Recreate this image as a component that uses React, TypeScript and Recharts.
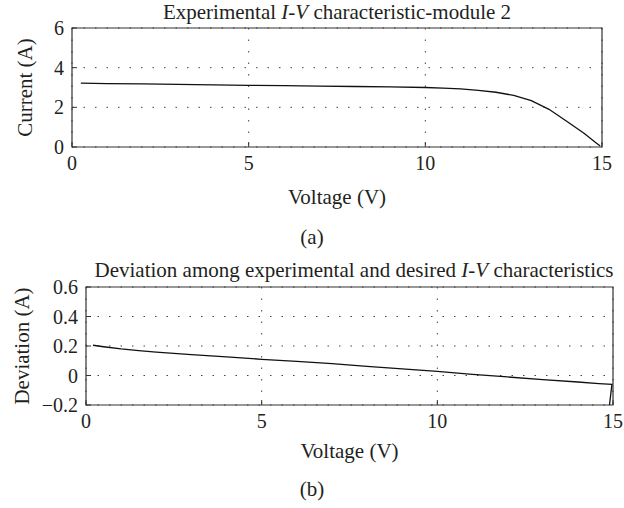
import { LineChart, Line, XAxis, YAxis, CartesianGrid, ReferenceArea, Label } from 'recharts';

// (a) experimental I-V curve
const ivVoltage = [0.25, 1, 2, 3, 4, 5, 6, 7, 8, 9, 10, 10.5, 11, 11.5, 12, 12.5, 13, 13.5, 14, 14.5, 14.8, 14.95];
const ivCurrent = [3.22, 3.2, 3.18, 3.16, 3.13, 3.11, 3.09, 3.07, 3.05, 3.03, 3.0, 2.97, 2.93, 2.86, 2.76, 2.6, 2.34, 1.9, 1.3, 0.68, 0.25, 0.05];

// (b) deviation
const devVoltage = [0.2, 0.5, 1, 1.5, 2, 3, 4, 5, 6, 7, 8, 9, 10, 11, 12, 13, 14, 14.6, 14.97, 14.9];
const devValue = [0.205, 0.195, 0.18, 0.168, 0.158, 0.142, 0.126, 0.11, 0.096, 0.08, 0.062, 0.045, 0.028, 0.008, -0.01, -0.028, -0.044, -0.055, -0.06, -0.2];

const xTicks = [0, 5, 10, 15];
const ivTicks = [0, 2, 4, 6];
const devTicks = [-0.2, 0, 0.2, 0.4, 0.6];

const ivData = ivVoltage.map((v, i) => ({ v, y: ivCurrent[i] }));
const devData = devVoltage.map((v, i) => ({ v, y: devValue[i] }));

const FONT = '"Liberation Serif", "DejaVu Serif", serif';
const INK = '#231f20';
const tickStyle = { fontSize: 20, fill: INK, fontFamily: FONT };
const tickLineStyle = { stroke: '#333' };

const fmtDev = (n: number) => (n === 0 ? '0' : n < 0 ? '\u2212' + Math.abs(n).toFixed(1) : n.toFixed(1));

function xLabel(dy: number) {
  return (props: any) => {
    const { x, y, width } = props.viewBox;
    return (
      <text x={x + width / 2} y={y + dy} textAnchor="middle" dominantBaseline="central"
        fontSize={21} fill={INK} fontFamily={FONT}>Voltage (V)</text>
    );
  };
}

function yLabel(text: string, cx: number) {
  return (props: any) => {
    const { y, height } = props.viewBox;
    const cy = y + height / 2;
    return (
      <text x={cx} y={cy} textAnchor="middle" dominantBaseline="central"
        transform={`rotate(-90, ${cx}, ${cy})`} fontSize={21} fill={INK} fontFamily={FONT}>{text}</text>
    );
  };
}

export default function App() {
  return (
    <div style={{ position: 'absolute', left: 0, top: 0, width: 624, height: 508, background: '#fff', fontFamily: FONT, color: INK, overflow: 'hidden' }}>
      <div style={{ position: 'absolute', left: 72, width: 530, top: 0, textAlign: 'center', fontSize: 21 }}>
        Experimental <i>I</i>-<i>V</i> characteristic-module 2
      </div>
      <div style={{ position: 'absolute', left: 0, top: 0 }}>
        <LineChart width={624} height={215} data={ivData} margin={{ top: 28, right: 22, left: 0, bottom: 28 }}>
          <CartesianGrid stroke="#444" strokeDasharray="1.5 10" />
          <XAxis dataKey="v" type="number" domain={[0, 15]} ticks={xTicks} tickSize={-5} tickMargin={14} interval={0}
            height={40} axisLine={false} tickLine={tickLineStyle} tick={tickStyle}>
            <Label content={xLabel(50)} />
          </XAxis>
          <XAxis xAxisId="top" orientation="top" dataKey="v" type="number" domain={[0, 15]} ticks={xTicks}
            tickSize={-5} height={0} axisLine={false} tickLine={tickLineStyle} tick={false} />
          <YAxis type="number" domain={[0, 6]} ticks={ivTicks} width={72} tickSize={-5} tickMargin={13} interval={0}
            axisLine={false} tickLine={tickLineStyle} tick={tickStyle}>
            <Label content={yLabel('Current (A)', 25)} />
          </YAxis>
          <YAxis yAxisId="right" orientation="right" type="number" domain={[0, 6]} ticks={ivTicks} width={0}
            tickSize={-5} axisLine={false} tickLine={tickLineStyle} tick={false} />
          <ReferenceArea x1={0} x2={15} y1={0} y2={6} fill="none" stroke="#333" strokeWidth={1.2} ifOverflow="visible" />
          <Line dataKey="y" type="linear" stroke="#111" strokeWidth={1.3} dot={false} isAnimationActive={false} />
        </LineChart>
      </div>
      <div style={{ position: 'absolute', left: 0, width: 624, top: 225, textAlign: 'center', fontSize: 21 }}>(a)</div>

      <div style={{ position: 'absolute', left: 84, width: 540, top: 258, textAlign: 'center', fontSize: 21, whiteSpace: 'nowrap' }}>
        Deviation among experimental and desired <i>I</i>-<i>V</i> characteristics
      </div>
      <div style={{ position: 'absolute', left: 0, top: 250 }}>
        <LineChart width={624} height={215} data={devData} margin={{ top: 37, right: 11, left: 0, bottom: 20 }}>
          <CartesianGrid stroke="#444" strokeDasharray="1.5 10" />
          <XAxis dataKey="v" type="number" domain={[0, 15]} ticks={xTicks} tickSize={-5} tickMargin={14} interval={0}
            height={40} axisLine={false} tickLine={tickLineStyle} tick={tickStyle}>
            <Label content={xLabel(46)} />
          </XAxis>
          <XAxis xAxisId="top" orientation="top" dataKey="v" type="number" domain={[0, 15]} ticks={xTicks}
            tickSize={-5} height={0} axisLine={false} tickLine={tickLineStyle} tick={false} />
          <YAxis type="number" domain={[-0.2, 0.6]} ticks={devTicks} width={86} tickSize={-5} tickMargin={13} interval={0}
            axisLine={false} tickLine={tickLineStyle} tick={tickStyle} tickFormatter={fmtDev}>
            <Label content={yLabel('Deviation (A)', 22)} />
          </YAxis>
          <YAxis yAxisId="right" orientation="right" type="number" domain={[-0.2, 0.6]} ticks={devTicks} width={0}
            tickSize={-5} axisLine={false} tickLine={tickLineStyle} tick={false} />
          <ReferenceArea x1={0} x2={15} y1={-0.2} y2={0.6} fill="none" stroke="#333" strokeWidth={1.2} ifOverflow="visible" />
          <Line dataKey="y" type="linear" stroke="#111" strokeWidth={1.3} dot={false} isAnimationActive={false} />
        </LineChart>
      </div>
      <div style={{ position: 'absolute', left: 0, width: 624, top: 477, textAlign: 'center', fontSize: 21 }}>(b)</div>
    </div>
  );
}
